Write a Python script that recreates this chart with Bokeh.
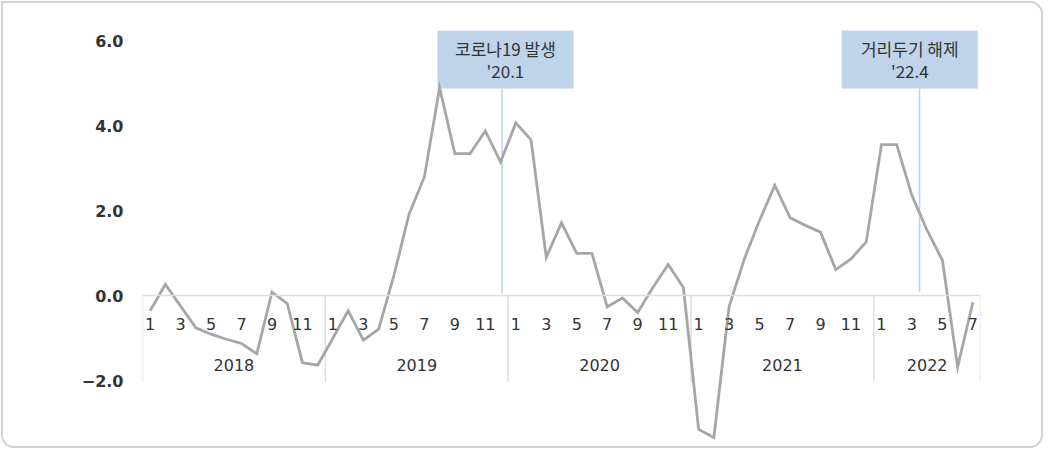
from bokeh.plotting import figure
from bokeh.models import (LinearAxis, FixedTicker, Range1d, ColumnDataSource,
                          BoxAnnotation)
from bokeh.core.properties import value
from bokeh.embed import file_html
from bokeh.resources import INLINE

# ---------------- data ----------------
years = ["2018", "2019", "2020", "2021", "2022"]
months_per_year = [12, 12, 12, 12, 7]
values = [
    # 2018
    -0.35, 0.27, -0.24, -0.75, -0.90, -1.02, -1.12, -1.36, 0.09, -0.18, -1.57, -1.63,
    # 2019
    -0.99, -0.35, -1.04, -0.78, 0.48, 1.93, 2.80, 4.90, 3.35, 3.35, 3.88, 3.15,
    # 2020
    4.07, 3.67, 0.91, 1.72, 1.00, 1.00, -0.26, -0.05, -0.39, 0.20, 0.74, 0.20,
    # 2021
    -3.14, -3.33, -0.25, 0.87, 1.78, 2.60, 1.84, 1.66, 1.50, 0.62, 0.87, 1.27,
    # 2022
    3.56, 3.56, 2.36, 1.54, 0.84, -1.67, -0.15,
]
y_ticks = [-2, 0, 2, 4, 6]
y_tick_labels = ["\u22122.0", "0.0", "2.0", "4.0", "6.0"]
event_texts = ["코로나19 발생\n'20.1", "거리두기 해제\n'22.4"]

# ---------------- derived ----------------
month_numbers = [m + 1 for n in months_per_year for m in range(n)]
x_idx = list(range(len(values)))
year_starts = []
s = 0
for n in months_per_year:
    year_starts.append(s)
    s += n
year_centers = [st + (n - 1) / 2 for st, n in zip(year_starts, months_per_year)]
boundaries = [st - 0.5 for st in year_starts] + [len(values) - 0.5]

FONT = "DejaVu Sans"
KFONT = "Noto Sans CJK KR"
TXT = "#333333"

p = figure(width=1044, height=449, output_backend="svg", toolbar_location=None,
           x_range=Range1d(-0.5, len(values) - 0.5), y_range=Range1d(-3.59, 6.48),
           x_axis_type=None, min_border_left=142, min_border_right=64,
           min_border_top=20, min_border_bottom=1)
p.outline_line_color = None
p.xgrid.visible = False
p.ygrid.visible = False
p.background_fill_color = None
p.border_fill_color = None
p.styles = {"outline": "2px solid #d2d2d2", "outline-offset": "-3px",
            "border-radius": "0px 14px 14px 14px", "background-color": "white"}

# y axis
p.yaxis.ticker = FixedTicker(ticks=y_ticks)
p.yaxis.major_label_overrides = {t: l for t, l in zip(y_ticks, y_tick_labels)}
p.yaxis.axis_line_color = None
p.yaxis.major_tick_line_color = None
p.yaxis.minor_tick_line_color = None
p.yaxis.major_tick_out = 0
p.yaxis.major_tick_in = 0
p.yaxis.major_label_standoff = 19
p.yaxis.major_label_text_font = FONT
p.yaxis.major_label_text_font_size = "16px"
p.yaxis.major_label_text_font_style = "bold"
p.yaxis.major_label_text_color = TXT

# year separators
p.segment(x0=boundaries, x1=boundaries, y0=[0] * len(boundaries),
          y1=[-2.03] * len(boundaries), line_color="#e0e0e0", line_width=1.5)

# month axis at y = 0
odd_ticks = [i for i, m in zip(x_idx, month_numbers) if m % 2 == 1]
month_axis = LinearAxis(fixed_location=0,
                        ticker=FixedTicker(ticks=odd_ticks),
                        major_label_overrides={i: str(month_numbers[i]) for i in odd_ticks})
month_axis.axis_line_color = "#dedede"
month_axis.axis_line_width = 1.5
month_axis.major_tick_line_color = None
month_axis.minor_tick_line_color = None
month_axis.major_tick_out = 0
month_axis.major_tick_in = 0
month_axis.major_label_standoff = 22
month_axis.major_label_text_font = FONT
month_axis.major_label_text_font_size = "16px"
month_axis.major_label_text_color = TXT
p.add_layout(month_axis, "below")

# year axis
year_axis = LinearAxis(fixed_location=0,
                       ticker=FixedTicker(ticks=year_centers),
                       major_label_overrides={c: y for c, y in zip(year_centers, years)})
year_axis.axis_line_color = None
year_axis.major_tick_line_color = None
year_axis.minor_tick_line_color = None
year_axis.major_tick_out = 0
year_axis.major_tick_in = 0
year_axis.major_label_standoff = 63
year_axis.major_label_text_font = FONT
year_axis.major_label_text_font_size = "16px"
year_axis.major_label_text_color = TXT
p.add_layout(year_axis, "below")

# event lines & boxes
event_line_x = [23.1, 50.5]
p.segment(x0=event_line_x, x1=event_line_x, y0=[0.06, 0.1], y1=[4.88, 4.9],
          line_color="#bcd3ee", line_width=1.6)

box_centers = [23.32, 49.86]
half_w = 4.46
for c in box_centers:
    p.add_layout(BoxAnnotation(left=c - half_w, right=c + half_w, top=6.24, bottom=4.88,
                               fill_color="#bfd3ea", fill_alpha=1.0,
                               line_color="#d3e1f2", line_width=1, level="underlay"))

# data line
src = ColumnDataSource(dict(x=x_idx, y=values))
p.line("x", "y", source=src, line_color="#a6a6a6", line_width=2.8, line_join="miter")

ev_src = ColumnDataSource(dict(x=box_centers, y=[5.56, 5.56], t=event_texts))
p.text("x", "y", text="t", source=ev_src, text_font=value(KFONT),
       text_font_size="17px", text_color=TXT, text_align="center",
       text_baseline="middle", text_line_height=0.86, level="overlay")

open("out.html", "w").write(file_html(p, INLINE))
